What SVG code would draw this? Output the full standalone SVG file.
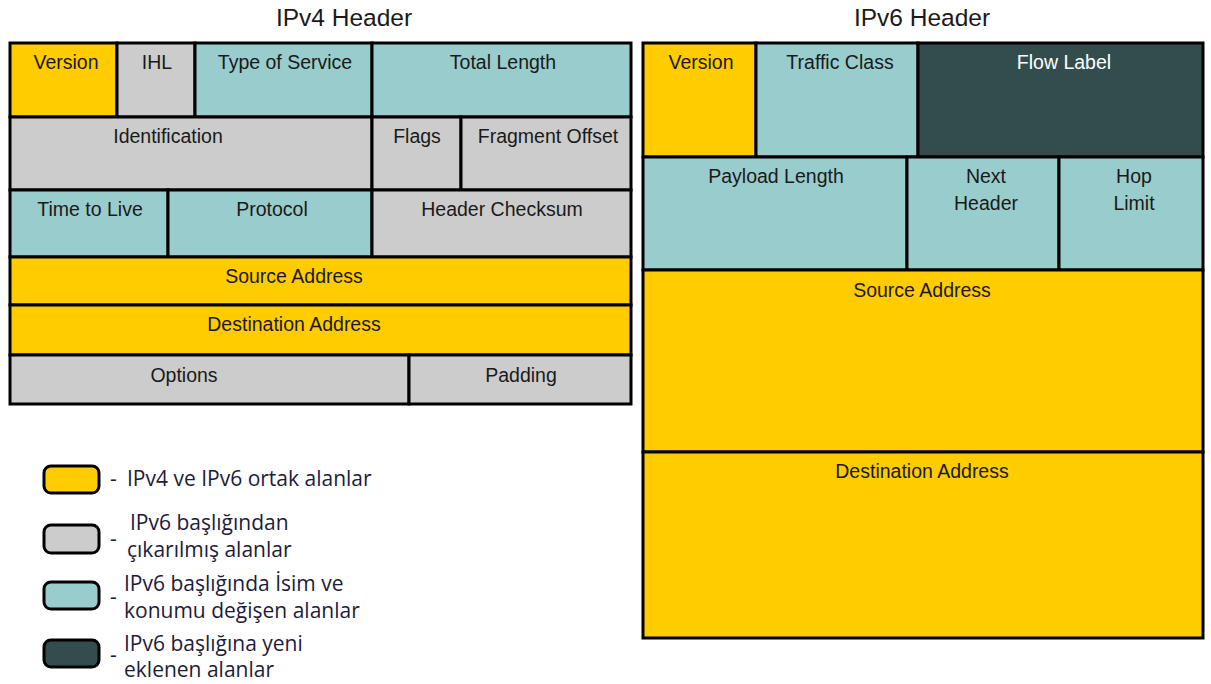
<svg xmlns="http://www.w3.org/2000/svg" width="1211" height="684" viewBox="0 0 1211 684">
<style>
.c{stroke:#000;stroke-width:3}
.y{fill:#FFCC00}.g{fill:#CCCCCC}.t{fill:#99CCCC}.d{fill:#334D4D}
.tx{font-family:"Liberation Sans",Arial,sans-serif;font-size:19.5px;fill:#1a1a1a;text-anchor:middle}
.w{fill:#ffffff}
.title{font-family:"Liberation Sans",Arial,sans-serif;font-size:24.5px;fill:#1a1a1a;text-anchor:middle}
.lg{font-family:"Open Sans","Noto Sans",sans-serif;font-size:21px;fill:#1c1c3a}
.sw{stroke:#000;stroke-width:3}
</style>
<rect width="1211" height="684" fill="#ffffff"/>
<text class="title" x="344" y="26">IPv4 Header</text>
<text class="title" x="922" y="26">IPv6 Header</text>

<g id="ipv4">
<g id="v4-version"><rect class="c y" x="10" y="43" width="107" height="74"/><text class="tx" x="66" y="69">Version</text></g>
<g id="v4-ihl"><rect class="c g" x="117" y="43" width="78" height="74"/><text class="tx" x="157" y="69">IHL</text></g>
<g id="v4-tos"><rect class="c t" x="195" y="43" width="177" height="74"/><text class="tx" x="285" y="69">Type of Service</text></g>
<g id="v4-totallen"><rect class="c t" x="372" y="43" width="259" height="74"/><text class="tx" x="503" y="69">Total Length</text></g>
<g id="v4-ident"><rect class="c g" x="10" y="117" width="362" height="73"/><text class="tx" x="168" y="143">Identification</text></g>
<g id="v4-flags"><rect class="c g" x="372" y="117" width="89" height="73"/><text class="tx" x="417" y="143">Flags</text></g>
<g id="v4-fragoff"><rect class="c g" x="461" y="117" width="170" height="73"/><text class="tx" x="548" y="143">Fragment Offset</text></g>
<g id="v4-ttl"><rect class="c t" x="10" y="190" width="158" height="67"/><text class="tx" x="90" y="216">Time to Live</text></g>
<g id="v4-proto"><rect class="c t" x="168" y="190" width="204" height="67"/><text class="tx" x="272" y="216">Protocol</text></g>
<g id="v4-checksum"><rect class="c g" x="372" y="190" width="259" height="67"/><text class="tx" x="502" y="216">Header Checksum</text></g>
<g id="v4-src"><rect class="c y" x="10" y="257" width="621" height="48"/><text class="tx" x="294" y="283">Source Address</text></g>
<g id="v4-dst"><rect class="c y" x="10" y="305" width="621" height="50"/><text class="tx" x="294" y="331">Destination Address</text></g>
<g id="v4-options"><rect class="c g" x="10" y="355" width="399" height="49"/><text class="tx" x="184" y="382">Options</text></g>
<g id="v4-padding"><rect class="c g" x="409" y="355" width="222" height="49"/><text class="tx" x="521" y="382">Padding</text></g>
</g>

<g id="ipv6">
<g id="v6-version"><rect class="c y" x="643" y="43" width="113" height="114"/><text class="tx" x="701" y="69">Version</text></g>
<g id="v6-tclass"><rect class="c t" x="756" y="43" width="162" height="114"/><text class="tx" x="840" y="69">Traffic Class</text></g>
<g id="v6-flow"><rect class="c d" x="918" y="43" width="285" height="114"/><text class="tx w" x="1064" y="69">Flow Label</text></g>
<g id="v6-payload"><rect class="c t" x="643" y="157" width="264" height="113"/><text class="tx" x="776" y="183">Payload Length</text></g>
<g id="v6-next"><rect class="c t" x="907" y="157" width="152" height="113"/><text class="tx" x="986" y="183">Next</text><text class="tx" x="986" y="210">Header</text></g>
<g id="v6-hop"><rect class="c t" x="1059" y="157" width="144" height="113"/><text class="tx" x="1134" y="183">Hop</text><text class="tx" x="1134" y="210">Limit</text></g>
<g id="v6-src"><rect class="c y" x="643" y="270" width="560" height="182"/><text class="tx" x="922" y="297">Source Address</text></g>
<g id="v6-dst"><rect class="c y" x="643" y="452" width="560" height="186"/><text class="tx" x="922" y="478">Destination Address</text></g>
</g>

<g id="legend">
<g id="lg-common"><rect class="sw y" x="44" y="466" width="55" height="27" rx="7"/><text class="lg" x="110" y="486">-</text><text class="lg" x="127" y="486">IPv4 ve IPv6 ortak alanlar</text></g>
<g id="lg-removed"><rect class="sw g" x="44" y="525" width="55" height="28" rx="7"/><text class="lg" x="110" y="546">-</text><text class="lg" x="130" y="530">IPv6 başlığından</text><text class="lg" x="127" y="557">çıkarılmış alanlar</text></g>
<g id="lg-changed"><rect class="sw t" x="44" y="582" width="55" height="27" rx="7"/><text class="lg" x="110" y="604">-</text><text class="lg" x="124" y="591">IPv6 başlığında İsim ve</text><text class="lg" x="124" y="618">konumu değişen alanlar</text></g>
<g id="lg-new"><rect class="sw d" x="44" y="640" width="55" height="27" rx="7"/><text class="lg" x="110" y="662">-</text><text class="lg" x="124" y="651">IPv6 başlığına yeni</text><text class="lg" x="124" y="677">eklenen alanlar</text></g>
</g>
<g id="connectors"/>
</svg>
